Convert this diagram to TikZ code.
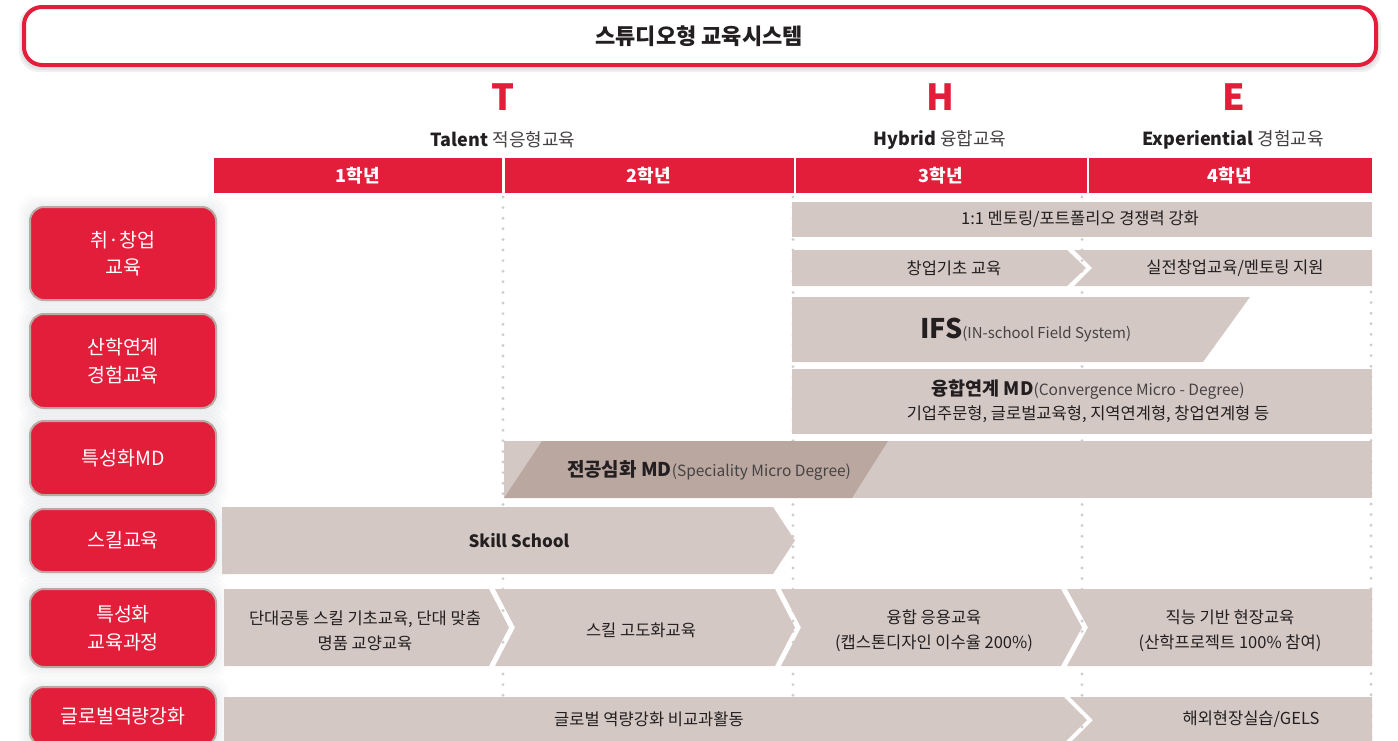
\documentclass[tikz,border=0pt]{standalone}
\usepackage{fontspec}
\setmainfont{Noto Sans CJK KR}
\definecolor{tred}{RGB}{227,30,58}
\definecolor{tgray}{RGB}{212,200,196}
\definecolor{tdark}{RGB}{186,167,160}
\definecolor{tborder}{RGB}{186,168,163}
\definecolor{ttext}{RGB}{35,31,32}
\definecolor{tsoft}{RGB}{70,66,67}
\definecolor{tdot}{RGB}{205,205,205}
\definecolor{tglow}{RGB}{120,130,140}
\newcommand{\fsz}[2]{\fontsize{#1}{#2}\selectfont}
\begin{document}
\begin{tikzpicture}[x=1pt,y=-1pt,
  lbox/.style={fill=tred, draw=tborder, line width=2pt, rounded corners=14pt,
     minimum width=186pt, text=white, font=\fsz{19.5}{27.5}, align=center, inner sep=0pt},
  ctext/.style={text=ttext, font=\fsz{16.5}{25}, align=center, inner sep=0pt},
  dotline/.style={draw=tdot, line width=3.2pt, line cap=round, dash pattern=on 0pt off 10.6pt},
  yearlbl/.style={text=white, font=\bfseries\fsz{18}{22}, inner sep=0pt},
  letter/.style={text=tred, font=\bfseries\fsz{36}{40}, inner sep=0pt},
  theme/.style={text=ttext, font=\fsz{18}{22}, inner sep=0pt},
  seg/.style={fill=tgray},
]
\useasboundingbox (0,0) rectangle (1398,740);
\clip (0,0) rectangle (1398,740);

% title
\fill[black, opacity=0.06, rounded corners=20pt] (19,6) rectangle (1381,72);
\fill[black, opacity=0.06, rounded corners=20pt] (21,7) rectangle (1379,70);
\draw[tred, line width=4pt, fill=white, rounded corners=18pt] (24,7) rectangle (1376,65);
\node[text=ttext, font=\bfseries\fsz{22}{26}, inner sep=0pt] (title) at (699,36) {스튜디오형 교육시스템};

% THE letters
\node[letter] (T) at (503,97) {T};
\node[letter] (H) at (940,97) {H};
\node[letter] (E) at (1234,97) {E};
\node[theme] (tal) at (503,140) {\textbf{Talent} {\color{tsoft}적응형교육}};
\node[theme] (hyb) at (940,140) {\textbf{Hybrid} {\color{tsoft}융합교육}};
\node[theme] (exp) at (1233,140) {\textbf{Experiential} {\color{tsoft}경험교육}};

% year bar
\fill[tred] (214,158) rectangle (1372,193);
\foreach \x in {503.5,795,1088} \draw[white, line width=2.5pt] (\x,158) -- (\x,193);
\node[yearlbl] (y1) at (358,176) {1학년};
\node[yearlbl] (y2) at (649,176) {2학년};
\node[yearlbl] (y3) at (941,176) {3학년};
\node[yearlbl] (y4) at (1230,176) {4학년};

% dotted guides
\draw[dotline] (503,197) -- (503,740);
\draw[dotline] (793,197) -- (793,740);
\draw[dotline] (1082,197) -- (1082,740);
\draw[dotline] (1371,292) -- (1371,740);

% left glow
\foreach \ya/\yb in {206/301,313/409,420/496,508/573,588/668,687/748}{
  \foreach \e/\o in {11/0.025,8/0.03,5/0.035,2/0.04}
    \fill[tglow, opacity=\o, rounded corners=16pt] (29-\e,\ya-\e) rectangle (217+\e,\yb+\e);
}
% left boxes
\node[lbox, minimum height=93pt] (r1) at (123,253.5) {취·창업\\교육};
\node[lbox, minimum height=94pt] (r2) at (123,361) {산학연계\\경험교육};
\node[lbox, minimum height=74pt] (r3) at (123,458) {특성화MD};
\node[lbox, minimum height=63pt] (r4) at (123,540.5) {스킬교육};
\node[lbox, minimum height=78pt] (r5) at (123,628) {특성화\\교육과정};
\node[lbox, minimum height=59pt] (r6) at (123,716.5) {글로벌역량강화};

% row A
\fill[seg] (792,202) rectangle (1372,237);
\node[ctext] (a1) at (1080,219.5) {1:1 멘토링/포트폴리오 경쟁력 강화};
% row B
\fill[seg] (792,250) -- (1067,250) -- (1086,268) -- (1067,286) -- (792,286) -- cycle;
\fill[seg] (1074,250) -- (1372,250) -- (1372,286) -- (1074,286) -- (1092,268) -- cycle;
\node[ctext] (b1) at (954,268) {창업기초 교육};
\node[ctext] (b2) at (1235,268) {실전창업교육/멘토링 지원};
% row C
\fill[seg] (792,297) -- (1250,297) -- (1203,362) -- (792,362) -- cycle;
\node[text=ttext, inner sep=0pt, anchor=base west] (c1) at (920,338)
  {{\bfseries\fsz{27}{30}IFS}{\color{tsoft}\fsz{15}{18}(IN-school Field System)}};
% row D
\fill[seg] (792,369) rectangle (1372,434);
\node[ctext, font=\fsz{16.5}{24}] (d1) at (1088,401)
  {{\bfseries\fsz{18.5}{24}융합연계 MD}{\color{tsoft}\fsz{15.5}{24}(Convergence Micro - Degree)}\\기업주문형, 글로벌교육형, 지역연계형, 창업연계형 등};
% row E
\fill[seg] (504,441) rectangle (1372,498);
\fill[tdark] (504,498) -- (542,441) -- (888,441) -- (852,498) -- cycle;
\node[text=ttext, inner sep=0pt] (e1) at (709,470)
  {{\bfseries\fsz{19}{22}전공심화 MD}{\color{tsoft}\fsz{15.5}{18}(Speciality Micro Degree)}};
% row F
\fill[seg] (222,507) -- (773,507) -- (795,540.5) -- (773,574) -- (222,574) -- cycle;
\node[text=ttext, font=\bfseries\fsz{17}{22}, inner sep=0pt] (f1) at (519,540.5) {Skill School};
% row G
\fill[seg] (224,589) -- (489,589) -- (509,627.5) -- (489,666) -- (224,666) -- cycle;
\fill[seg] (495,589) -- (775,589) -- (795,627.5) -- (775,666) -- (495,666) -- (515,627.5) -- cycle;
\fill[seg] (781,589) -- (1061,589) -- (1082,627.5) -- (1061,666) -- (781,666) -- (801,627.5) -- cycle;
\fill[seg] (1067,589) -- (1372,589) -- (1372,666) -- (1067,666) -- (1088,627.5) -- cycle;
\node[ctext] (g1) at (365,630.5) {단대공통 스킬 기초교육, 단대 맞춤\\명품 교양교육};
\node[ctext] (g2) at (641,630) {스킬 고도화교육};
\node[ctext] (g3) at (934,630.5) {융합 응용교육\\(캡스톤디자인 이수율 200\%)};
\node[ctext] (g4) at (1230,630.5) {직능 기반 현장교육\\(산학프로젝트 100\% 참여)};
% row H
\fill[seg] (224,697) -- (1064,697) -- (1087,720) -- (1064,743) -- (224,743) -- cycle;
\fill[seg] (1070,697) -- (1372,697) -- (1372,743) -- (1070,743) -- (1093,720) -- cycle;
\node[ctext] (h1) at (649,719) {글로벌 역량강화 비교과활동};
\node[ctext] (h2) at (1251,719) {해외현장실습/GELS};
\end{tikzpicture}
\end{document}
